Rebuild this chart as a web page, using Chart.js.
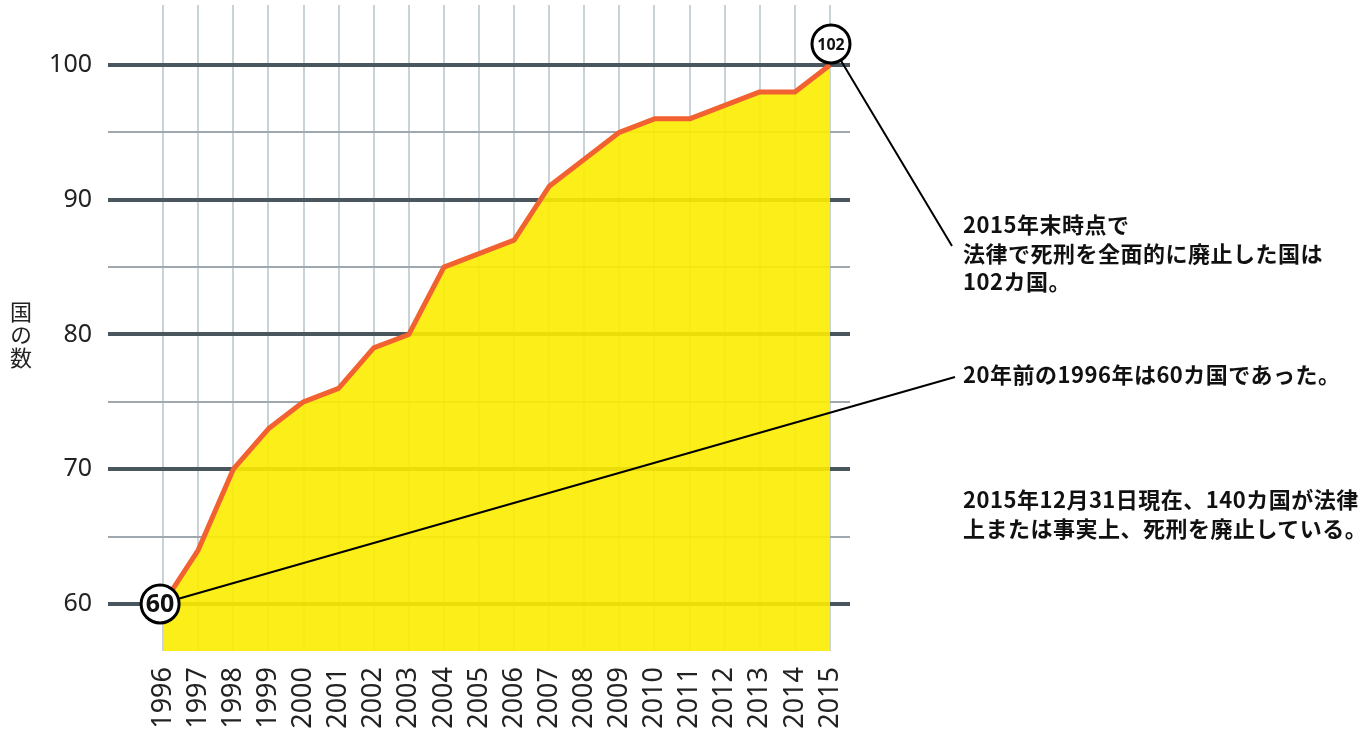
<!DOCTYPE html>
<html lang="ja">
<head>
<meta charset="utf-8">
<title>死刑を廃止した国の数</title>
<script src="https://cdn.jsdelivr.net/npm/chart.js@4"></script>
<style>
  html, body { margin: 0; padding: 0; background: #fff; }
  #wrap { position: relative; width: 1369px; height: 736px; }
  #chart { position: absolute; left: 0; top: 0; }
  .note {
    position: absolute;
    left: 963px;
    font-family: "Noto Sans CJK JP", sans-serif;
    font-size: 22px;
    font-weight: bold;
    letter-spacing: 0.5px;
    line-height: 28.5px;
    color: #111;
    white-space: nowrap;
  }
  #ytitle {
    position: absolute;
    left: 9px;
    top: 301px;
    font-family: "Noto Sans CJK JP", sans-serif;
    font-size: 22px;
    line-height: 24px;
    letter-spacing: 1px;
    writing-mode: vertical-rl;
    color: #222;
  }
</style>
</head>
<body>
<div id="wrap">
  <canvas id="chart" width="1369" height="736"></canvas>
  <div id="ytitle">国の数</div>
  <div class="note" style="top:209px">2015年末時点で<br>法律で死刑を全面的に廃止した国は<br>102カ国。</div>
  <div class="note" style="top:359px">20年前の1996年は60カ国であった。</div>
  <div class="note" style="top:484px">2015年12月31日現在、140カ国が法律<br>上または事実上、死刑を廃止している。</div>
</div>
<script>
// years on the x axis
const years = [1996, 1997, 1998, 1999, 2000, 2001, 2002, 2003, 2004, 2005,
  2006, 2007, 2008, 2009, 2010, 2011, 2012, 2013, 2014, 2015];

// number of countries that abolished the death penalty by law
const countries = [60, 64, 70, 73, 75, 76, 79, 80, 85, 86,
  87, 91, 93, 95, 96, 96, 97, 98, 98, 100];

// horizontal grid lines (every 10 gets a label)
const yTicks = [60, 65, 70, 75, 80, 85, 90, 95, 100];

// labels in the two circles
const startLabel = '60';
const endLabel = '102';

// Draw the circled numbers and the leader lines to the notes
const calloutPlugin = {
  id: 'callouts',
  afterDatasetsDraw(chart) {
    const ctx = chart.ctx;
    const x = chart.scales.x;
    const y = chart.scales.y;
    const last = years.length - 1;

    const sx = x.getPixelForValue(years[0]) - 3;
    const sy = y.getPixelForValue(countries[0]);
    const ex = x.getPixelForValue(years[last]) + 1;
    const ey = y.getPixelForValue(countries[last]) - 21;
    const noteX = chart.chartArea.right + 103;

    ctx.save();
    ctx.strokeStyle = '#000';
    ctx.lineWidth = 2;

    // leader lines
    ctx.beginPath();
    ctx.moveTo(sx, sy);
    ctx.lineTo(noteX + 2, 377);
    ctx.moveTo(ex, ey);
    ctx.lineTo(noteX - 1, 246);
    ctx.stroke();

    // circles
    function circle(cx, cy, text, size) {
      ctx.beginPath();
      ctx.arc(cx, cy, 19, 0, Math.PI * 2);
      ctx.fillStyle = '#fff';
      ctx.fill();
      ctx.lineWidth = 3;
      ctx.stroke();
      ctx.fillStyle = '#111';
      ctx.font = 'bold ' + size + 'px "Noto Sans", sans-serif';
      ctx.textAlign = 'center';
      ctx.textBaseline = 'middle';
      ctx.fillText(text, cx, cy + 1);
    }
    circle(sx, sy, startLabel, 25);
    circle(ex, ey, endLabel, 16);
    ctx.restore();
  }
};

const ctx = document.getElementById('chart').getContext('2d');

const chart = new Chart(ctx, {
  type: 'line',
  data: {
    datasets: [{
      data: years.map((yr, i) => ({ x: yr, y: countries[i] })),
      borderColor: '#f26130',
      borderWidth: 5,
      borderJoinStyle: 'round',
      backgroundColor: 'rgba(252, 236, 0, 0.9)',
      fill: 'start',
      pointRadius: 0,
      tension: 0
    }]
  },
  options: {
    responsive: false,
    animation: false,
    layout: {
      padding: { left: 0, top: 5, right: 519, bottom: 0 }
    },
    plugins: {
      legend: { display: false },
      tooltip: { enabled: false }
    },
    scales: {
      x: {
        type: 'linear',
        min: 1994.43,
        max: 2015.57,
        afterBuildTicks: (scale) => {
          scale.ticks = years.map((v) => ({ value: v }));
        },
        afterFit: (scale) => {
          scale.height = 85;
          scale.paddingLeft = 0;
          scale.paddingRight = 0;
        },
        border: { display: false },
        grid: {
          color: '#c9d2d6',
          lineWidth: 2,
          drawTicks: false
        },
        ticks: {
          autoSkip: false,
          minRotation: 90,
          maxRotation: 90,
          padding: 16,
          color: '#222',
          font: { family: 'Noto Sans', size: 27 },
          callback: (v) => String(v)
        }
      },
      y: {
        min: 56.51,
        max: 104.45,
        afterBuildTicks: (scale) => {
          scale.ticks = yTicks.map((v) => ({ value: v }));
        },
        afterFit: (scale) => {
          scale.width = 108;
          scale.paddingTop = 0;
          scale.paddingBottom = 0;
        },
        border: { display: false },
        grid: {
          color: (c) => (c.tick && c.tick.value % 10 === 0 ? '#4a565d' : '#9ea8ae'),
          lineWidth: (c) => (c.tick && c.tick.value % 10 === 0 ? 4 : 2),
          drawTicks: false
        },
        ticks: {
          padding: 16,
          color: '#222',
          font: { family: 'Noto Sans', size: 25 },
          callback: (v) => (v % 10 === 0 ? String(v) : '')
        }
      }
    }
  },
  plugins: [calloutPlugin]
});
</script>
</body>
</html>
